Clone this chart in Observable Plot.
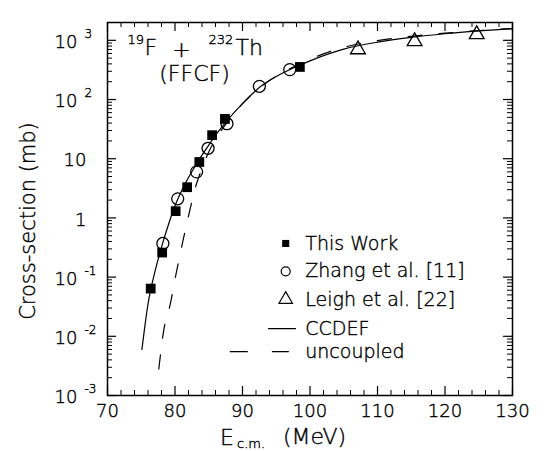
<!DOCTYPE html>
<html><head><meta charset="utf-8">
<script src="https://cdn.jsdelivr.net/npm/d3@7"></script>
<script src="https://cdn.jsdelivr.net/npm/@observablehq/plot@0.6"></script>
<style>
body{margin:0;background:#fff;}
#chart{position:relative;width:544px;height:451px;}
#chart svg text{font-weight:300;fill:#000;stroke:#000;stroke-width:0.4px;}
g[aria-label="legend-text"] text{letter-spacing:1.8px;word-spacing:6px;}
g[aria-label="ytitle"] text{letter-spacing:1.2px;}
g[aria-label="xtitle"] text{letter-spacing:1.5px;}
g[aria-label="annot"] text{letter-spacing:1.5px;}
</style></head><body><div id="chart"></div>
<script>
// ---- data ----
const thisWorkE = [76.4, 78.1, 80.1, 81.8, 83.6, 85.5, 87.4, 98.5];
const thisWorkS = [0.064, 0.26, 1.3, 3.3, 8.8, 25, 47, 355];
const zhangE = [78.2, 80.4, 83.2, 84.9, 87.7, 92.5, 97.0];
const zhangS = [0.37, 2.1, 6.0, 15, 39, 167, 320];
const leighE = [107.1, 115.5, 124.7];
const leighS = [700, 960, 1260];
const ccdefE = [75.1, 76.0, 77.0, 78.0, 79.0, 80.0, 81.0, 82.0, 83.0, 84.0, 85.0, 86.0, 87.0, 88.0, 90.0, 92.5, 95.0, 97.5, 100, 105, 110, 115, 120, 125, 130];
const ccdefS = [0.006, 0.035, 0.12, 0.32, 0.75, 1.6, 2.9, 4.8, 7.5, 11.5, 17, 25, 35, 48, 85, 160, 245, 340, 450, 710, 930, 1120, 1290, 1440, 1575];
const uncE = [77.6, 78.3, 79.3, 80.2, 81.2, 82.2, 83.0, 83.8, 85.0, 86.5, 88.0, 90.0, 92.0, 94.0, 97.0, 100, 105, 110, 115, 120, 125, 130];
const uncS = [0.0028, 0.012, 0.035, 0.12, 0.42, 1.35, 3.2, 6.0, 13, 26, 45, 85, 140, 210, 330, 480, 760, 990, 1170, 1320, 1460, 1580];
const xTicks = [70, 80, 90, 100, 110, 120, 130];
const yTicks = [1e-3, 1e-2, 1e-1, 1, 10, 100, 1000];
const yBase = ["10", "10", "10", "", "", "10", "10"];
const yExp = ["-3", "-2", "-1", "", "", "2", "3"];
const yPlain = ["", "", "", "1", "10", "", ""];
const legendLabels = ["This Work", "Zhang et al. [11]", "Leigh et al. [22]", "CCDEF", "uncoupled"];

// ---- tables ----
const zip = (E, S) => E.map((e, i) => ({E: e, s: S[i]}));
const thisWork = zip(thisWorkE, thisWorkS);
const zhang = zip(zhangE, zhangS);
const leigh = zip(leighE, leighS);
const ccdef = zip(ccdefE, ccdefS);
const unc = zip(uncE, uncS);
const yLab = yTicks.map((v, i) => ({v, base: yBase[i], exp: yExp[i], plain: yPlain[i]}));

// layout
const W = 544, H = 451, mL = 107, mR = 32, mT = 22, mB = 56;
const iw = W - mL - mR, ih = H - mT - mB;
const xMinor = d3.range(72, 130, 2).filter(v => v % 10 !== 0);
const yMinor = [];
for (let d = -3; d <= 3; d++) for (let k = 2; k <= 9; k++) { const v = k * 10 ** d; if (v <= 2000) yMinor.push(v); }
const MAJ = 9, MIN = 5;

// legend placement (data-space anchor)
const legX = 96.4, legTX = 99.3;
const legY = [0.37, 0.125, 0.042, 0.0135, 0.0055];
const F = "DejaVu Sans, sans-serif";

const chart = Plot.plot({
  width: W, height: H,
  marginLeft: mL, marginRight: mR, marginTop: mT, marginBottom: mB,
  x: {domain: [70, 130], axis: null},
  y: {type: "log", domain: [1e-3, 2000], axis: null},
  style: {background: "white", color: "black", fontFamily: F},
  marks: [
    // ticks (inward on all four sides)
    Plot.tickX(xTicks, {x: d => d, insetTop: ih - MAJ, strokeWidth: 1.2}),
    Plot.tickX(xMinor, {x: d => d, insetTop: ih - MIN, strokeWidth: 1}),
    Plot.tickX(xTicks, {x: d => d, insetBottom: ih - MAJ, strokeWidth: 1.2}),
    Plot.tickX(xMinor, {x: d => d, insetBottom: ih - MIN, strokeWidth: 1}),
    Plot.tickY(yTicks, {y: d => d, insetRight: iw - MAJ, strokeWidth: 1.2}),
    Plot.tickY(yMinor, {y: d => d, insetRight: iw - MIN, strokeWidth: 1}),
    Plot.tickY(yTicks, {y: d => d, insetLeft: iw - MAJ, strokeWidth: 1.2}),
    Plot.tickY(yMinor, {y: d => d, insetLeft: iw - MIN, strokeWidth: 1}),
    Plot.frame({stroke: "black", strokeWidth: 1.5}),
    // curves
    Plot.line(ccdef, {x: "E", y: "s", stroke: "black", strokeWidth: 1.2, curve: "monotone-x"}),
    Plot.line(unc, {x: "E", y: "s", stroke: "black", strokeWidth: 1.2, strokeDasharray: "14,17", curve: "monotone-x"}),
    // data points
    Plot.dot(zhang, {x: "E", y: "s", r: 6, stroke: "black", fill: "none", strokeWidth: 1.3}),
    Plot.dot(leigh, {x: "E", y: "s", symbol: "triangle", r: 5.5, stroke: "black", fill: "none", strokeWidth: 1.3}),
    Plot.dot(thisWork, {x: "E", y: "s", symbol: "square", r: 5.5, fill: "black", stroke: "none"}),
    // legend
    Plot.dot([legendLabels[0]], {x: () => legX, y: () => legY[0], symbol: "square", r: 4, fill: "black"}),
    Plot.dot([legendLabels[1]], {x: () => legX, y: () => legY[1], r: 4.5, stroke: "black", fill: "none", strokeWidth: 1.2}),
    Plot.dot([legendLabels[2]], {x: () => legX, y: () => legY[2], symbol: "triangle", r: 5, stroke: "black", fill: "none", strokeWidth: 1.2}),
    Plot.line([93.85, 97.85], {x: d => d, y: () => legY[3], stroke: "black", strokeWidth: 1.2}),
    Plot.line([88.2, 96.8], {x: d => d, y: () => legY[4], stroke: "black", strokeWidth: 1.2, strokeDasharray: "17,25"}),
    Plot.text(legendLabels, {x: () => legTX, y: (d, i) => legY[i], text: d => d, textAnchor: "start", lineAnchor: "middle", fontSize: 19, ariaLabel: "legend-text"}),
    // annotation
    Plot.text(["19"], {frameAnchor: "top-left", dx: 20, dy: 17, text: d => d, textAnchor: "start", lineAnchor: "middle", fontSize: 13, ariaLabel: "annot-sup"}),
    Plot.text(["F"], {frameAnchor: "top-left", dx: 37, dy: 25, text: d => d, textAnchor: "start", lineAnchor: "middle", fontSize: 22, ariaLabel: "annot"}),
    Plot.text(["+"], {frameAnchor: "top-left", dx: 74, dy: 27, text: d => d, textAnchor: "middle", lineAnchor: "middle", fontSize: 22, ariaLabel: "annot"}),
    Plot.text(["232"], {frameAnchor: "top-left", dx: 101, dy: 17, text: d => d, textAnchor: "start", lineAnchor: "middle", fontSize: 13, ariaLabel: "annot-sup"}),
    Plot.text(["Th"], {frameAnchor: "top-left", dx: 128, dy: 25, text: d => d, textAnchor: "start", lineAnchor: "middle", fontSize: 22, ariaLabel: "annot"}),
    Plot.text(["(FFCF)"], {frameAnchor: "top-left", dx: 87, dy: 51, text: d => d, textAnchor: "middle", lineAnchor: "middle", fontSize: 22, ariaLabel: "annot"}),
    // x tick labels
    Plot.text(xTicks, {x: d => d, frameAnchor: "bottom", dy: 16, text: d => String(d), lineAnchor: "middle", fontSize: 18}),
    // y tick labels
    Plot.text(yLab, {y: "v", frameAnchor: "left", dx: -30, dy: 2, text: "base", textAnchor: "end", lineAnchor: "middle", fontSize: 18}),
    Plot.text(yLab, {y: "v", frameAnchor: "left", dx: -23, dy: -6, text: "exp", textAnchor: "start", lineAnchor: "middle", fontSize: 12}),
    Plot.text(yLab, {y: "v", frameAnchor: "left", dx: -21, dy: 2, text: "plain", textAnchor: "end", lineAnchor: "middle", fontSize: 18}),
    // axis titles
    Plot.text(["Cross-section (mb)"], {frameAnchor: "left", dx: -79, dy: 12, rotate: -90, text: d => d, textAnchor: "middle", lineAnchor: "middle", fontSize: 21, ariaLabel: "ytitle"}),
    Plot.text(["E"], {frameAnchor: "bottom", dx: -90, dy: 42, text: d => d, textAnchor: "start", lineAnchor: "middle", fontSize: 22, ariaLabel: "xtitle"}),
    Plot.text(["c.m."], {frameAnchor: "bottom", dx: -73, dy: 48, text: d => d, textAnchor: "start", lineAnchor: "middle", fontSize: 13, ariaLabel: "xtitle"}),
    Plot.text(["(MeV)"], {frameAnchor: "bottom", dx: -27, dy: 41, text: d => d, textAnchor: "start", lineAnchor: "middle", fontSize: 22, ariaLabel: "xtitle"})
  ]
});
document.getElementById("chart").appendChild(chart);
</script></body></html>
